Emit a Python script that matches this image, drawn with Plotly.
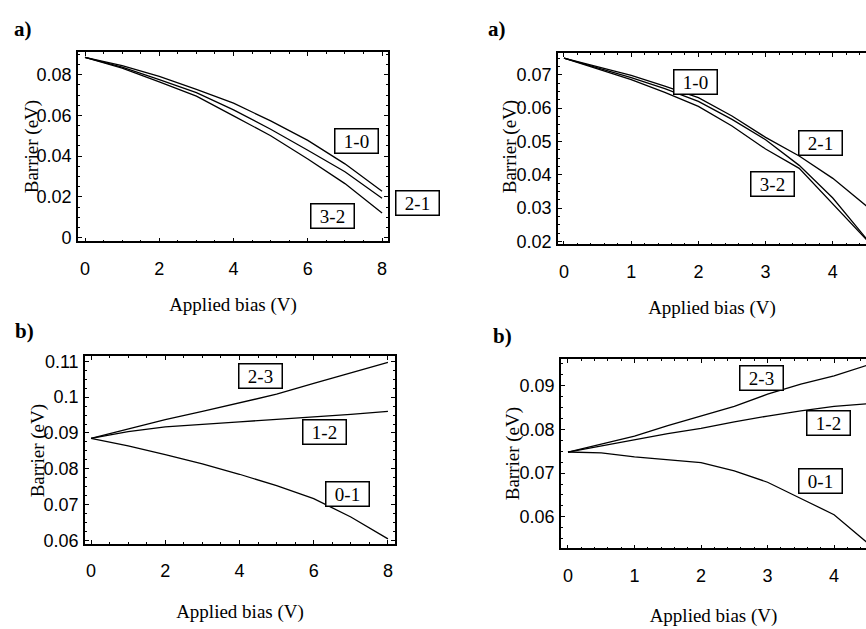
import plotly.graph_objects as go

# ---------------- data ----------------
# Panel a) left
bias_a1 = [0, 1, 2, 3, 4, 5, 6, 7, 8]
a1_10 = [0.0885, 0.0845, 0.0792, 0.0728, 0.0660, 0.0573, 0.0477, 0.0362, 0.0227]
a1_21 = [0.0885, 0.0837, 0.0776, 0.0712, 0.0627, 0.0532, 0.0429, 0.0323, 0.0193]
a1_32 = [0.0885, 0.0832, 0.0765, 0.0695, 0.0598, 0.0500, 0.0386, 0.0265, 0.0121]

# Panel a) right
bias_a2 = [0, 0.5, 1, 1.5, 2, 2.5, 3, 3.5, 4, 4.5]
a2_10 = [0.075, 0.0725, 0.0698, 0.0666, 0.0631, 0.0576, 0.0512, 0.0456, 0.0389, 0.0306]
a2_21 = [0.075, 0.0721, 0.0691, 0.0658, 0.0620, 0.0566, 0.0505, 0.0428, 0.0330, 0.0208]
a2_32 = [0.075, 0.0718, 0.0685, 0.0647, 0.0605, 0.0546, 0.0477, 0.0419, 0.0311, 0.0205]

# Panel b) left
bias_b1 = [0, 1, 2, 3, 4, 5, 6, 7, 8]
b1_23 = [0.0885, 0.0911, 0.0937, 0.0960, 0.0983, 0.1008, 0.1038, 0.1067, 0.1097]
b1_12 = [0.0885, 0.0904, 0.0917, 0.0925, 0.0931, 0.0938, 0.0944, 0.0952, 0.0960]
b1_01 = [0.0885, 0.0864, 0.0840, 0.0814, 0.0785, 0.0753, 0.0717, 0.0666, 0.0605]

# Panel b) right
bias_b2 = [0, 0.5, 1, 1.5, 2, 2.5, 3, 3.5, 4, 4.5]
b2_23 = [0.0748, 0.0766, 0.0784, 0.0808, 0.0830, 0.0852, 0.0880, 0.0903, 0.0922, 0.0946]
b2_12 = [0.0748, 0.0762, 0.0776, 0.0790, 0.0802, 0.0817, 0.0830, 0.0842, 0.0852, 0.0858]
b2_01 = [0.0748, 0.0746, 0.0737, 0.0731, 0.0724, 0.0705, 0.0679, 0.0642, 0.0605, 0.0541]

# tick labels
xt_left = [0, 2, 4, 6, 8]
xt_right = [0, 1, 2, 3, 4]
yt_a1 = [0, 0.02, 0.04, 0.06, 0.08]
yt_a1_text = ["0", "0.02", "0.04", "0.06", "0.08"]
yt_a2 = [0.02, 0.03, 0.04, 0.05, 0.06, 0.07]
yt_a2_text = ["0.02", "0.03", "0.04", "0.05", "0.06", "0.07"]
yt_b1 = [0.06, 0.07, 0.08, 0.09, 0.10, 0.11]
yt_b1_text = ["0.06", "0.07", "0.08", "0.09", "0.1", "0.11"]
yt_b2 = [0.06, 0.07, 0.08, 0.09]
yt_b2_text = ["0.06", "0.07", "0.08", "0.09"]

# curve labels: (text, x, y) per panel, in data units
labels_a1 = [("1-0", 7.3, 0.0472), ("2-1", 8.95, 0.0169), ("3-2", 6.66, 0.0106)]
labels_a2 = [("1-0", 1.95, 0.0679), ("2-1", 3.82, 0.0494), ("3-2", 3.11, 0.0373)]
labels_b1 = [("2-3", 4.56, 0.1059), ("1-2", 6.3, 0.0903), ("0-1", 6.9, 0.0731)]
labels_b2 = [("2-3", 2.91, 0.0918), ("1-2", 3.91, 0.0815), ("0-1", 3.79, 0.0683)]

W, H = 866, 629
SERIF = "Liberation Serif, Times New Roman, serif"
SANS = "Liberation Sans, Arial, sans-serif"

def px_x(p):
    return p / W

def px_y(p):
    return 1 - p / H

panels = {
    "a1": dict(xd=[px_x(78), px_x(388)], yd=[px_y(241), px_y(48)], xr=[-0.189, 8.16], yr=[-0.0019, 0.0911]),
    "a2": dict(xd=[px_x(558), 1.0], yd=[px_y(244), px_y(49)], xr=[-0.089, 4.494], yr=[0.0191, 0.0765]),
    "b1": dict(xd=[px_x(85), px_x(395)], yd=[px_y(549), px_y(358)], xr=[-0.162, 8.19], yr=[0.0592, 0.1114]),
    "b2": dict(xd=[px_x(561), 1.0], yd=[px_y(554), px_y(361)], xr=[-0.105, 4.48], yr=[0.0528, 0.096]),
}

fig = go.Figure()

def add_lines(xs, ys_list, names, xa, ya):
    for ys, nm in zip(ys_list, names):
        fig.add_trace(go.Scatter(x=xs, y=ys, mode="lines", name=nm,
                                 line=dict(color="black", width=1.3),
                                 xaxis=xa, yaxis=ya, showlegend=False))

add_lines(bias_a1, [a1_10, a1_21, a1_32], ["1-0", "2-1", "3-2"], "x", "y")
add_lines(bias_a2, [a2_10, a2_21, a2_32], ["1-0", "2-1", "3-2"], "x2", "y2")
add_lines(bias_b1, [b1_23, b1_12, b1_01], ["2-3", "1-2", "0-1"], "x3", "y3")
add_lines(bias_b2, [b2_23, b2_12, b2_01], ["2-3", "1-2", "0-1"], "x4", "y4")

def xaxis(p, tickvals, minor_dt, anchor, standoff):
    return dict(domain=p["xd"], range=p["xr"], anchor=anchor, tickvals=tickvals,
                ticks="inside", ticklen=4, tickwidth=1, tickcolor="black",
                showline=True, linecolor="black", linewidth=1.6, mirror="ticks",
                showgrid=False, zeroline=False,
                minor=dict(dtick=minor_dt, ticks="inside", ticklen=2, tickcolor="black", showgrid=False),
                tickfont=dict(family=SANS, size=18, color="black"),
                ticklabelstandoff=10,
                title=dict(text="Applied bias (V)", font=dict(family=SERIF, size=19, color="black"),
                           standoff=standoff))

def yaxis(p, tickvals, ticktext, minor_dt, anchor, mirror):
    return dict(domain=p["yd"], range=p["yr"], anchor=anchor, tickvals=tickvals, ticktext=ticktext,
                ticks="inside", ticklen=4, tickwidth=1, tickcolor="black",
                showline=True, linecolor="black", linewidth=1.6, mirror=mirror,
                showgrid=False, zeroline=False,
                minor=dict(dtick=minor_dt, ticks="inside", ticklen=2, tickcolor="black", showgrid=False),
                tickfont=dict(family=SANS, size=18, color="black"),
                ticklabelstandoff=1)

fig.update_layout(
    width=W, height=H,
    margin=dict(l=0, r=0, t=0, b=0),
    paper_bgcolor="white", plot_bgcolor="white",
    xaxis=xaxis(panels["a1"], xt_left, 0.5, "y", 20),
    yaxis=yaxis(panels["a1"], yt_a1, yt_a1_text, 0.005, "x", "ticks"),
    xaxis2=xaxis(panels["a2"], xt_right, 0.2, "y2", 20),
    yaxis2=yaxis(panels["a2"], yt_a2, yt_a2_text, 0.0025, "x2", False),
    xaxis3=xaxis(panels["b1"], xt_left, 0.5, "y3", 25),
    yaxis3=yaxis(panels["b1"], yt_b1, yt_b1_text, 0.0025, "x3", "ticks"),
    xaxis4=xaxis(panels["b2"], xt_right, 0.2, "y4", 24),
    yaxis4=yaxis(panels["b2"], yt_b2, yt_b2_text, 0.0025, "x4", False),
)

annotations = []

def add_labels(labels, p):
    # convert data position to paper position through the panel's axis scale
    for txt, x, y in labels:
        fx = (x - p["xr"][0]) / (p["xr"][1] - p["xr"][0])
        fy = (y - p["yr"][0]) / (p["yr"][1] - p["yr"][0])
        px = p["xd"][0] + fx * (p["xd"][1] - p["xd"][0])
        py = p["yd"][0] + fy * (p["yd"][1] - p["yd"][0])
        annotations.append(dict(text=txt, x=px, y=py, xref="paper", yref="paper", showarrow=False,
                                xanchor="center", yanchor="middle",
                                font=dict(family=SERIF, size=19, color="black"),
                                bordercolor="black", borderwidth=1.5, borderpad=1,
                                width=40, height=21, bgcolor="white"))

add_labels(labels_a1, panels["a1"])
add_labels(labels_a2, panels["a2"])
add_labels(labels_b1, panels["b1"])
add_labels(labels_b2, panels["b2"])

# panel letters
for txt, x, y in [("a)", 23, 24), ("a)", 497, 24), ("b)", 24, 332), ("b)", 502, 337)]:
    annotations.append(dict(text="<b>%s</b>" % txt, x=px_x(x), y=px_y(y), xref="paper", yref="paper",
                            showarrow=False, xanchor="center", yanchor="middle",
                            font=dict(family=SERIF, size=21, color="black")))

# y-axis titles
for x, y in [(32, 145), (510, 145), (38, 455), (513, 458)]:
    annotations.append(dict(text="Barrier (eV)", x=px_x(x), y=px_y(y), xref="paper", yref="paper",
                            showarrow=False, textangle=-90, xanchor="center", yanchor="middle",
                            font=dict(family=SERIF, size=19, color="black")))

fig.update_layout(annotations=annotations)

fig.write_html("out.html",
               config={"displayModeBar": False},
               post_script="document.body.style.margin='0';document.body.style.overflow='hidden';")
